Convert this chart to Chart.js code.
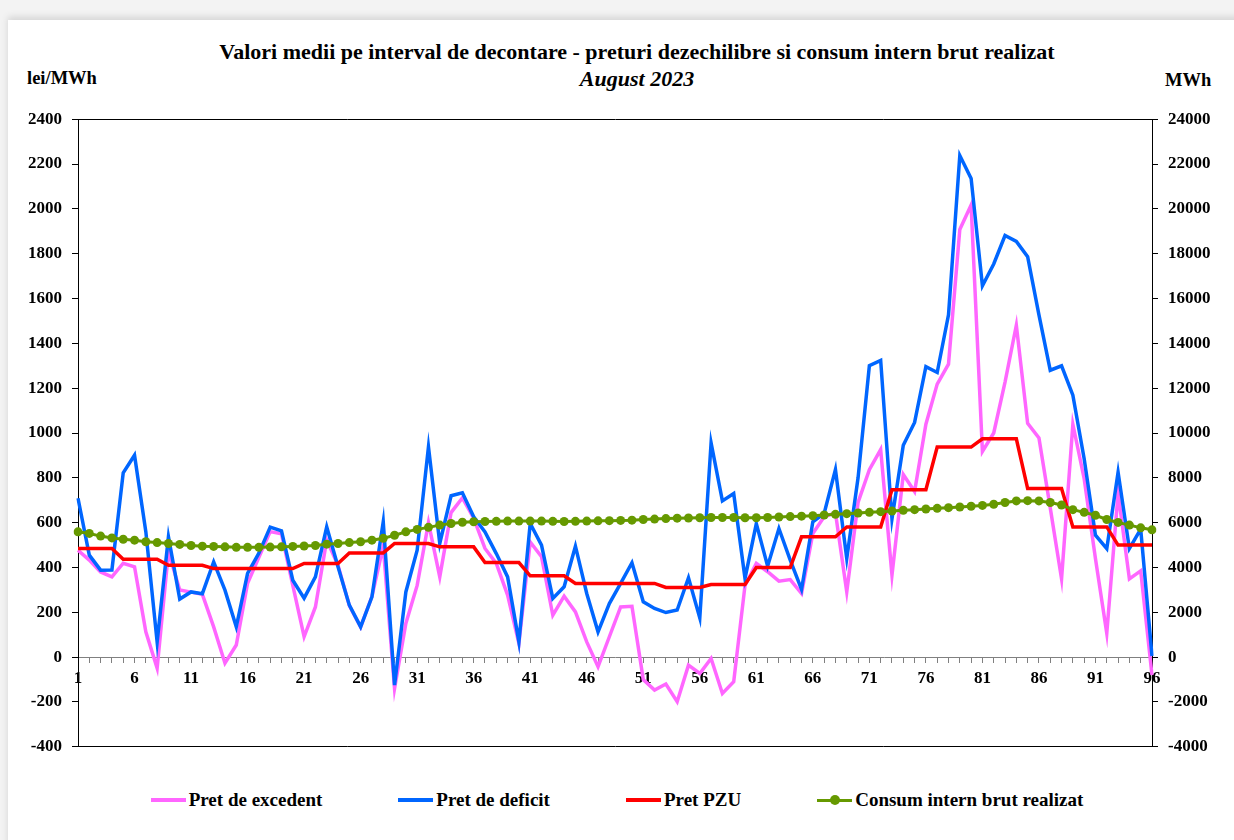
<!DOCTYPE html>
<html>
<head>
<meta charset="utf-8">
<title>Valori medii pe interval de decontare - August 2023</title>
<script src="https://cdn.jsdelivr.net/npm/chart.js@4.4.0/dist/chart.umd.min.js"></script>
<style>
  html, body { margin: 0; padding: 0; }
  body {
    width: 1234px; height: 840px; overflow: hidden; position: relative;
    background: #f3f3f3;
    font-family: "Liberation Serif", "Times New Roman", serif;
    color: #000;
  }
  .card {
    position: absolute; left: 8px; top: 20px; width: 1240px; height: 840px;
    background: #fff; box-shadow: 0 -3px 7px rgba(0, 0, 0, 0.13);
  }
  .txt { position: absolute; font-weight: bold; white-space: nowrap; line-height: 1.15; }
  .title { left: 0; width: 1274px; top: 39px; text-align: center; font-size: 22px; }
  .subtitle { left: 0; width: 1274px; top: 66px; text-align: center; font-size: 22px; font-style: italic; }
  .unit-left { left: 27px; top: 68px; font-size: 18.5px; }
  .unit-right { left: 1165px; top: 70px; font-size: 18.5px; }
  #wrap { position: absolute; left: 0; top: 99px; width: 1234px; height: 668px; }
  .legend {
    position: absolute; left: 0; width: 1234px; top: 789px;
    display: flex; justify-content: center; gap: 76px;
    font-weight: bold; font-size: 19px; line-height: 22px;
  }
  .legend .item { display: flex; align-items: center; }
  .legend .swatch { position: relative; width: 35px; height: 4px; margin-right: 3px; }
  .legend .dot {
    position: absolute; left: 13px; top: -3.5px; width: 10px; height: 10px; border-radius: 50%;
    background: #669900;
  }
</style>
</head>
<body>
<div class="card"></div>
<div class="txt title">Valori medii pe interval de decontare - preturi dezechilibre si consum intern brut realizat</div>
<div class="txt subtitle">August 2023</div>
<div class="txt unit-left">lei/MWh</div>
<div class="txt unit-right">MWh</div>
<div id="wrap"><canvas id="chart" width="1234" height="668"></canvas></div>
<div class="legend" id="legend"></div>

<script>
// intervale de decontare 1..96
const intervals = ["1","2","3","4","5","6","7","8","9","10","11","12","13","14","15","16",
  "17","18","19","20","21","22","23","24","25","26","27","28","29","30","31","32",
  "33","34","35","36","37","38","39","40","41","42","43","44","45","46","47","48",
  "49","50","51","52","53","54","55","56","57","58","59","60","61","62","63","64",
  "65","66","67","68","69","70","71","72","73","74","75","76","77","78","79","80",
  "81","82","83","84","85","86","87","88","89","90","91","92","93","94","95","96"];

// lei/MWh
const pretExcedent = [477, 433, 380, 358, 419, 403, 113, -49, 470, 300, 290, 280,
  135, -27, 54, 330, 445, 560, 550, 320, 91, 224, 522, 410,
  230, 135, 270, 495, -140, 150, 320, 600, 358, 645, 710, 620,
  485, 418, 277, 61, 514, 448, 187, 272, 202, 68, -43, 91,
  224, 227, -100, -147, -120, -199, -36, -73, -6, -162, -110, 320,
  418, 381, 339, 346, 284, 552, 626, 644, 291, 690, 836, 926,
  366, 815, 739, 1039, 1218, 1307, 1908, 2017, 918, 1000, 1227, 1481,
  1043, 978, 666, 349, 1039, 796, 439, 106, 731, 349, 385, -80];

const pretDeficit = [709, 455, 388, 389, 822, 901, 560, 68, 537, 259, 291, 283,
  425, 299, 135, 374, 464, 580, 563, 343, 263, 358, 581, 403,
  232, 135, 269, 604, -125, 291, 477, 938, 507, 720, 733, 626,
  559, 462, 358, 68, 596, 500, 262, 314, 495, 284, 113, 239,
  329, 421, 247, 217, 199, 210, 354, 175, 956, 697, 730, 351,
  596, 406, 574, 433, 302, 604, 641, 837, 440, 800, 1300, 1324,
  617, 945, 1047, 1296, 1270, 1527, 2238, 2136, 1657, 1754, 1881, 1855,
  1787, 1527, 1280, 1300, 1169, 885, 544, 484, 825, 484, 571, 5];

const pretPZU = [485, 485, 485, 485, 437, 437, 437, 437, 410, 410, 410, 410,
  395, 395, 395, 395, 395, 395, 395, 395, 418, 418, 418, 418,
  465, 465, 465, 465, 507, 507, 507, 507, 492, 492, 492, 492,
  422, 422, 422, 422, 363, 363, 363, 363, 329, 329, 329, 329,
  329, 329, 329, 329, 311, 311, 311, 311, 324, 324, 324, 324,
  400, 400, 400, 400, 537, 537, 537, 537, 581, 581, 581, 581,
  747, 747, 747, 747, 937, 937, 937, 937, 974, 974, 974, 974,
  752, 752, 752, 752, 581, 581, 581, 581, 500, 500, 500, 500];

// MWh (axa din dreapta)
const consumBrut = [5590, 5520, 5400, 5320, 5260, 5220, 5150, 5110, 5070, 5030, 4980, 4950,
  4940, 4920, 4900, 4900, 4900, 4910, 4920, 4940, 4960, 4980, 5040, 5070,
  5110, 5150, 5220, 5300, 5440, 5590, 5700, 5790, 5890, 5960, 6020, 6040,
  6050, 6060, 6070, 6070, 6070, 6070, 6060, 6050, 6060, 6070, 6080, 6090,
  6100, 6110, 6140, 6160, 6180, 6200, 6210, 6220, 6230, 6230, 6230, 6220,
  6220, 6230, 6250, 6270, 6290, 6310, 6340, 6370, 6400, 6430, 6460, 6490,
  6520, 6550, 6580, 6610, 6640, 6670, 6700, 6730, 6770, 6820, 6900, 6970,
  6980, 6970, 6900, 6790, 6580, 6460, 6330, 6140, 6010, 5890, 5770, 5680];

const leftTicks = { min: -400, max: 2400, step: 200 };
const rightTicks = { min: -4000, max: 24000, step: 2000 };

(function () {

  const FONT = { family: "'Liberation Serif', 'Times New Roman', serif", size: 17, weight: "bold" };
  const plain = v => String(v);

  const series = [
    { label: "Pret de excedent", data: pretExcedent, color: "#ff66ff", axis: "y", order: 4 },
    { label: "Pret de deficit", data: pretDeficit, color: "#0066ff", axis: "y", order: 3 },
    { label: "Pret PZU", data: pretPZU, color: "#ff0000", axis: "y", order: 2 },
    { label: "Consum intern brut realizat", data: consumBrut, color: "#669900", axis: "y1", order: 1, dots: true }
  ];

  // legend in HTML
  const legend = document.getElementById("legend");
  series.forEach(s => {
    const item = document.createElement("div");
    item.className = "item";
    const sw = document.createElement("span");
    sw.className = "swatch";
    sw.style.background = s.color;
    if (s.dots) {
      sw.style.height = "3px";
      const d = document.createElement("span");
      d.className = "dot";
      sw.appendChild(d);
    }
    item.appendChild(sw);
    item.appendChild(document.createTextNode(s.label));
    legend.appendChild(item);
  });

  const frameColor = c => {
    const v = c.tick && c.tick.value;
    return (v === leftTicks.max || v === leftTicks.min) ? "#000" : "rgba(0,0,0,0)";
  };

  new Chart(document.getElementById("chart"), {
    type: "line",
    data: {
      labels: intervals,
      datasets: series.map(s => ({
        label: s.label,
        data: s.data,
        yAxisID: s.axis,
        order: s.order,
        borderColor: s.color,
        backgroundColor: s.color,
        borderWidth: s.dots ? 3 : 3.5,
        pointRadius: s.dots ? 4.5 : 0,
        pointBorderWidth: 0,
        pointBackgroundColor: s.color,
        tension: 0,
        fill: false
      }))
    },
    options: {
      responsive: false,
      animation: false,
      devicePixelRatio: 1,
      layout: { padding: { top: 1, bottom: 3, left: 0, right: 0 } },
      plugins: {
        legend: { display: false },
        title: { display: false },
        tooltip: { enabled: false }
      },
      scales: {
        x: {
          type: "category",
          offset: false,
          position: { y: 0 },
          grid: { drawOnChartArea: false, drawTicks: true, tickLength: 5, color: "#808080" },
          border: { display: true, color: "#808080", width: 1 },
          ticks: {
            autoSkip: false, maxRotation: 0, padding: 6, color: "#000", font: FONT,
            callback: (v, i) => (i % 5 === 0 ? intervals[i] : "")
          }
        },
        y: {
          position: "left",
          min: leftTicks.min, max: leftTicks.max,
          ticks: { stepSize: leftTicks.step, padding: 10, color: "#000", font: FONT, callback: plain },
          grid: { color: frameColor, tickColor: "#000", tickLength: 6, drawTicks: true },
          border: { display: true, color: "#000", width: 1 },
          afterFit: s => { s.width = 78; }
        },
        y1: {
          position: "right",
          min: rightTicks.min, max: rightTicks.max,
          ticks: { stepSize: rightTicks.step, padding: 10, color: "#000", font: FONT, callback: plain },
          grid: { drawOnChartArea: false, tickColor: "#000", tickLength: 6 },
          border: { display: true, color: "#000", width: 1 },
          afterFit: s => { s.width = 82; }
        }
      }
    }
  });

})();
</script>
</body>
</html>
